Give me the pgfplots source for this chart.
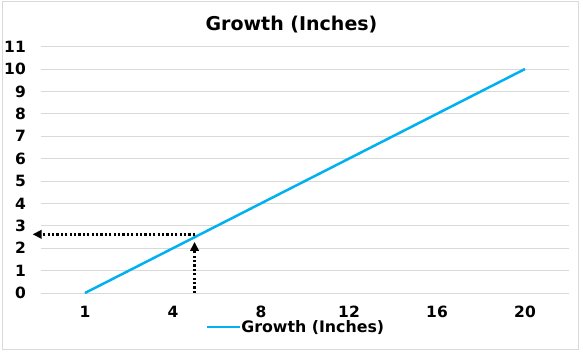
\documentclass[border=0pt]{standalone}
\usepackage{pgfplots}
\pgfplotsset{compat=1.18}
\usetikzlibrary{arrows.meta}
\usepackage{fontspec}
\setmainfont{DejaVu Sans}
\definecolor{gridgray}{HTML}{D9D9D9}
\definecolor{exblue}{HTML}{00B0F0}
\begin{document}
\begin{tikzpicture}[x=1pt,y=1pt]
\path[use as bounding box] (0,0) rectangle (583,353);
\draw[gridgray, line width=1pt] (2.5,3.5) rectangle (578,351);
\node[font=\bfseries\fontsize{19}{22}\selectfont] at (291.5,328) {Growth (Inches)};
\begin{axis}[
  at={(41pt,60pt)}, anchor=south west,
  scale only axis, width=528pt, height=246.4pt,
  xmin=-0.5, xmax=5.5, ymin=0, ymax=11,
  xtick={0,1,2,3,4,5}, xticklabels={1,4,8,12,16,20},
  ytick={0,1,...,11},
  ymajorgrids, grid style={gridgray, line width=0.8pt},
  axis line style={draw=none},
  major tick length=0pt,
  tick label style={font=\bfseries\fontsize{15.5}{18}\selectfont, inner sep=0pt},
  yticklabel style={anchor=east, xshift=-15pt},
  xticklabel style={anchor=north, yshift=-13pt},
  /pgf/number format/assume math mode=true,
  clip=false,
  legend style={draw=none, fill=none, at={(0.5,-0.138)}, anchor=center,
    font=\bfseries\fontsize{15.8}{18}\selectfont, legend cell align=left,
    inner sep=0pt, xshift=-10pt,
    /tikz/every odd column/.style={inner xsep=0pt},
    nodes={inner xsep=0pt}},
  legend image code/.code={\draw[#1, line width=2.5pt] (0pt,0pt) -- (33pt,0pt);},
]
\addplot[exblue, line width=2.5pt] coordinates {(0,0) (1,2) (2,4) (3,6) (4,8) (5,10)};
\addlegendentry{Growth (Inches)}
\draw[black, line width=2.5pt, dash pattern=on 2.2pt off 2.2pt, -{Triangle[length=9pt,width=8.5pt]}] (axis cs:1.245,0) -- (axis cs:1.245,2.28);
\draw[black, line width=2.5pt, dash pattern=on 2.2pt off 2.2pt, -{Triangle[length=9pt,width=8.5pt]}] (axis cs:1.25,2.62) -- (axis cs:-0.595,2.62);
\end{axis}
\end{tikzpicture}
\end{document}
